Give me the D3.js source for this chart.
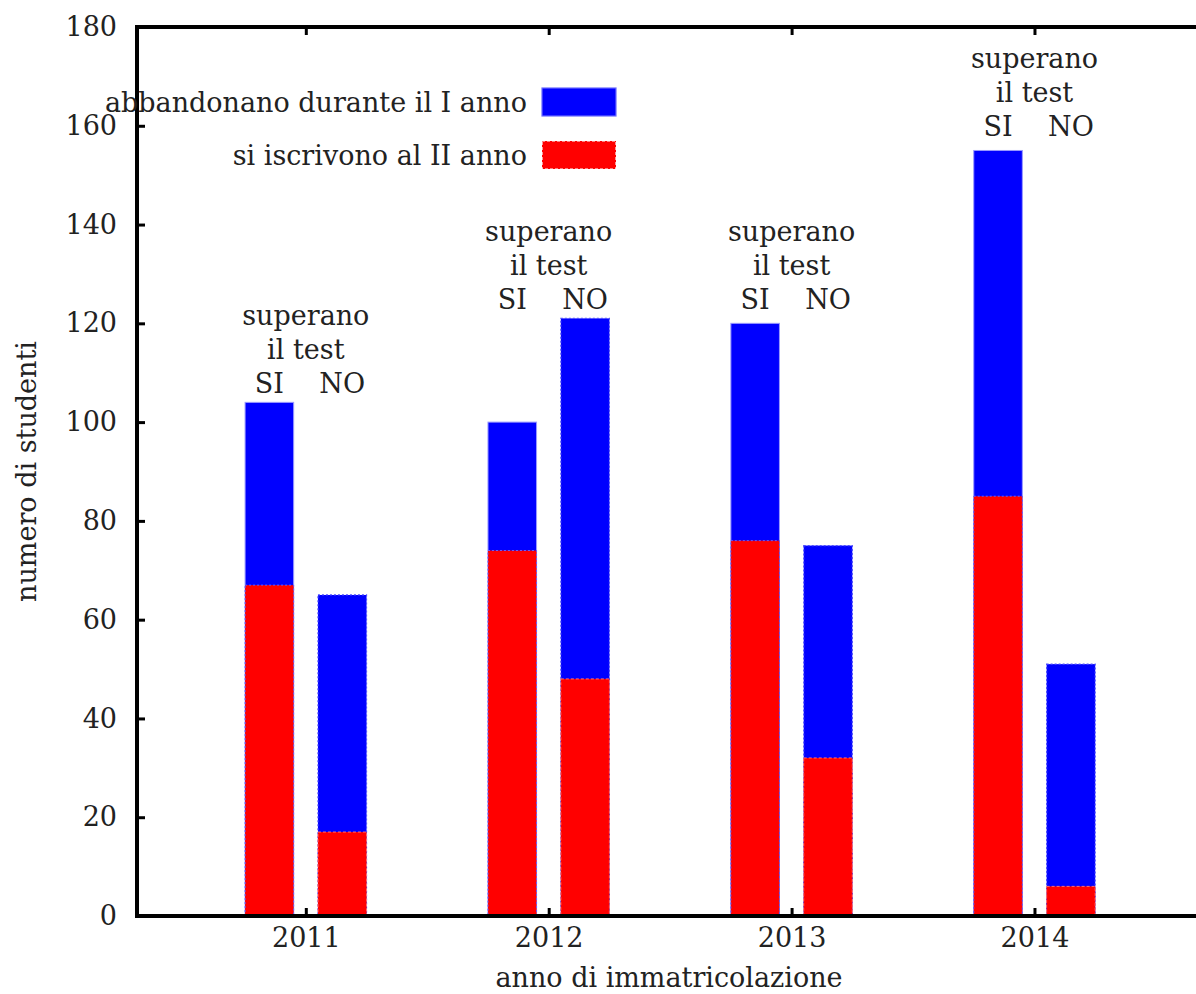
<!DOCTYPE html>
<html>
<head>
<meta charset="utf-8">
<script src="https://d3js.org/d3.v7.min.js"></script>
<style>
  body { margin: 0; background: #fff; }
  text { font-family: "DejaVu Serif", serif; fill: #222; }
</style>
</head>
<body>
<div class="chart"></div>
<script>

// Data
//
var years = [2011, 2012, 2013, 2014];
// superano il test: SI
var siTotal = [104, 100, 120, 155];
var siIscritti = [67, 74, 76, 85];
// superano il test: NO
var noTotal = [65, 121, 75, 51];
var noIscritti = [17, 48, 32, 6];
// height (in students) of the "SI NO" line above each group
var labelLevel = [108, 125, 125, 160];
var yTicks = [0, 20, 40, 60, 80, 100, 120, 140, 160, 180];

var W = 1196, H = 994;
var margin = {top: 27, left: 137, bottom: 78};
var font = "DejaVu Serif, serif";

var svg = d3.select(".chart")
	.append("svg")
	.attr("width", W)
	.attr("height", H);

var x = d3.scaleLinear()
	.domain([2010.305, 2014.665])
	.range([margin.left, W]);

var y = d3.scaleLinear()
	.domain([0, 180])
	.range([H - margin.bottom, margin.top]);

var off = 0.15, bw = 0.2;

var rows = years.map(function(yr, i) {
	return {year: yr, si: siTotal[i], siR: siIscritti[i], no: noTotal[i], noR: noIscritti[i], lab: labelLevel[i]};
});

// bars
var g = svg.append("g");

g.selectAll(".siBlue").data(rows).enter().append("rect")
	.attr("x", function(d) { return x(d.year - off - bw / 2); })
	.attr("width", function(d) { return x(d.year - off + bw / 2) - x(d.year - off - bw / 2); })
	.attr("y", function(d) { return y(d.si); })
	.attr("height", function(d) { return y(0) - y(d.si); })
	.attr("fill", "#0000ff")
	.attr("stroke", "#9a9aff")
	.attr("stroke-width", 1);

g.selectAll(".siRed").data(rows).enter().append("rect")
	.attr("x", function(d) { return x(d.year - off - bw / 2); })
	.attr("width", function(d) { return x(d.year - off + bw / 2) - x(d.year - off - bw / 2); })
	.attr("y", function(d) { return y(d.siR); })
	.attr("height", function(d) { return y(0) - y(d.siR); })
	.attr("fill", "#ff0000")
	.attr("stroke", "#6060ff")
	.attr("stroke-width", 1)
	.attr("stroke-dasharray", "2,2");

g.selectAll(".noBlue").data(rows).enter().append("rect")
	.attr("x", function(d) { return x(d.year + off - bw / 2); })
	.attr("width", function(d) { return x(d.year + off + bw / 2) - x(d.year + off - bw / 2); })
	.attr("y", function(d) { return y(d.no); })
	.attr("height", function(d) { return y(0) - y(d.no); })
	.attr("fill", "#0000ff")
	.attr("stroke", "#5050ff")
	.attr("stroke-width", 1.2)
	.attr("stroke-dasharray", "2,2");

g.selectAll(".noRed").data(rows).enter().append("rect")
	.attr("x", function(d) { return x(d.year + off - bw / 2); })
	.attr("width", function(d) { return x(d.year + off + bw / 2) - x(d.year + off - bw / 2); })
	.attr("y", function(d) { return y(d.noR); })
	.attr("height", function(d) { return y(0) - y(d.noR); })
	.attr("fill", "#ff0000")
	.attr("stroke", "#ff7070")
	.attr("stroke-width", 1)
	.attr("stroke-dasharray", "3,2");

// group labels
var fs = 27, lh = 34;
var lab = svg.append("g").attr("font-size", fs);
rows.forEach(function(d) {
	var base = y(d.lab) + 10;
	lab.append("text").attr("x", x(d.year)).attr("y", base - 2 * lh)
		.attr("text-anchor", "middle").text("superano");
	lab.append("text").attr("x", x(d.year)).attr("y", base - lh)
		.attr("text-anchor", "middle").text("il test");
	lab.append("text").attr("x", x(d.year - off)).attr("y", base)
		.attr("text-anchor", "middle").text("SI");
	lab.append("text").attr("x", x(d.year + off)).attr("y", base)
		.attr("text-anchor", "middle").text("NO");
});

// axes
var axisLeft = d3.axisLeft(y).tickValues(yTicks).tickSize(-8).tickPadding(20);
var gy = svg.append("g")
	.attr("transform", "translate(" + margin.left + ",0)")
	.call(axisLeft);

var axisBottom = d3.axisBottom(x).tickValues(years).tickSize(-8).tickPadding(12)
	.tickFormat(d3.format("d"));
var gx = svg.append("g")
	.attr("transform", "translate(0," + y(0) + ")")
	.call(axisBottom);

var axisTop = d3.axisTop(x).tickValues(years).tickSize(-8).tickFormat("");
var gt = svg.append("g")
	.attr("transform", "translate(0," + y(180) + ")")
	.call(axisTop);

[gy, gx, gt].forEach(function(a) {
	a.select(".domain").remove();
	a.selectAll(".tick line").attr("stroke", "#000").attr("stroke-width", 3);
	a.selectAll(".tick text").attr("font-size", fs).attr("font-family", font).attr("fill", "#222");
});

// frame (left, bottom, top)
svg.append("path")
	.attr("d", "M" + W + "," + y(180) + "H" + margin.left + "V" + y(0) + "H" + W)
	.attr("fill", "none")
	.attr("stroke", "#000")
	.attr("stroke-width", 4);

// axis titles
svg.append("text")
	.attr("transform", "translate(36," + (y(90)) + ") rotate(-90)")
	.attr("text-anchor", "middle")
	.attr("font-size", fs)
	.text("numero di studenti");

svg.append("text")
	.attr("x", 669).attr("y", 987)
	.attr("text-anchor", "middle")
	.attr("font-size", fs)
	.text("anno di immatricolazione");

// legend
var legend = [
	{label: "abbandonano durante il I anno", color: "#0000ff", dash: null},
	{label: "si iscrivono al II anno", color: "#ff0000", dash: "3,2"}
];
var lg = svg.append("g").attr("font-size", fs);
legend.forEach(function(d, i) {
	var cy = 102 + i * 53;
	lg.append("text").attr("x", 527).attr("y", cy + 10)
		.attr("text-anchor", "end").text(d.label);
	lg.append("rect").attr("x", 542).attr("y", cy - 14)
		.attr("width", 74).attr("height", 28)
		.attr("fill", d.color)
		.attr("stroke", d.dash ? "#ffffff" : "#6a6aff")
		.attr("stroke-width", 1.2)
		.attr("stroke-dasharray", d.dash);
});

</script>
</body>
</html>
